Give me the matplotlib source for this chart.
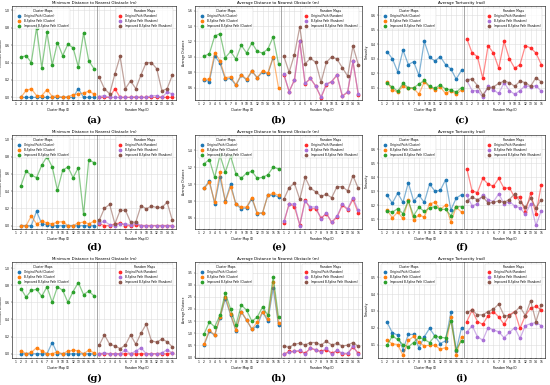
import matplotlib
matplotlib.use("Agg")
import matplotlib.pyplot as plt

# x tick labels
cluster_ids = list(range(1, 17))
random_ids = list(range(1, 16))

series_names = ["Original Path", "B-Spline Path", "Improved B-Spline Path"]
cluster_colors = ["#1f77b4", "#ff7f0e", "#2ca02c"]
random_colors = ["#ff2a2a", "#a970d6", "#8c564b"]

# (a) minimum distance
a_clu_orig = [0, 0, 0, 0, 0, 0, 0, 0, 0, 0, 0, 0.10, 0, 0, 0]
a_clu_bsp = [0, 0.08, 0.10, 0.02, 0.02, 0.09, 0.01, 0.02, 0.0, 0.01, 0.03, 0.04, 0.05, 0.07, 0.04]
a_clu_imp = [0.46, 0.48, 0.40, 0.80, 0.34, 0.75, 0.37, 0.63, 0.48, 0.61, 0.57, 0.35, 0.74, 0.42, 0.33]
a_rnd_orig = [0.0, 0.0, 0.0, 0.10, 0.0, 0.0, 0.0, 0.0, 0.0, 0.0, 0.0, 0.0, 0.0, 0.0, 0.0]
a_rnd_bsp = [0.01, 0.02, 0.0, 0.0, 0.0, 0.0, 0.0, 0.01, 0.0, 0.0, 0.02, 0.02, 0.0, 0.06, 0.04]
a_rnd_imp = [0.23, 0.10, 0.04, 0.27, 0.47, 0.10, 0.19, 0.10, 0.26, 0.40, 0.40, 0.33, 0.075, 0.10, 0.255]

# (b) average distance
b_clu_orig = [0.70, 0.68, 1.01, 0.92, 0.71, 0.72, 0.63, 0.76, 0.70, 0.81, 0.73, 0.80, 0.78, 0.99]
b_clu_bsp = [0.71, 0.71, 1.05, 0.95, 0.73, 0.74, 0.64, 0.77, 0.71, 0.82, 0.73, 0.82, 0.79, 1.00, 0.60]
b_clu_imp = [1.01, 1.04, 1.27, 1.30, 0.99, 1.07, 0.97, 1.15, 1.05, 1.18, 1.07, 1.05, 1.10, 1.26, 0.91]
b_rnd_orig = [0.77, 0.55, 0.70, 1.20, 0.65, 0.72, 0.62, 0.47, 0.64, 0.68, 0.76, 0.49, 0.54, 0.94, 0.51]
b_rnd_bsp = [0.78, 0.55, 0.70, 1.20, 0.66, 0.72, 0.62, 0.48, 0.65, 0.68, 0.77, 0.49, 0.55, 0.94, 0.52]
b_rnd_imp = [1.01, 0.80, 1.03, 1.39, 0.91, 0.98, 0.93, 0.67, 0.93, 1.00, 0.97, 0.86, 0.75, 1.14, 0.90]

# (c) tortuosity
c_clu_orig = [0.35, 0.30, 0.21, 0.36, 0.26, 0.28, 0.185, 0.42, 0.31, 0.285, 0.315, 0.26, 0.23, 0.16, 0.22]
c_clu_bsp = [0.14, 0.085, 0.07, 0.11, 0.095, 0.095, 0.055, 0.14, 0.105, 0.085, 0.105, 0.06, 0.08, 0.055, 0.085]
c_clu_imp = [0.13, 0.105, 0.075, 0.13, 0.10, 0.10, 0.125, 0.15, 0.11, 0.095, 0.12, 0.09, 0.085, 0.07, 0.10]
c_rnd_orig = [0.44, 0.34, 0.315, 0.165, 0.39, 0.34, 0.235, 0.42, 0.30, 0.235, 0.26, 0.39, 0.375, 0.34, 0.26]
c_rnd_bsp = [0.15, 0.08, 0.08, 0.035, 0.11, 0.085, 0.06, 0.135, 0.08, 0.055, 0.08, 0.115, 0.105, 0.115, 0.075]
c_rnd_imp = [0.155, 0.16, 0.115, 0.05, 0.10, 0.105, 0.13, 0.145, 0.135, 0.11, 0.145, 0.135, 0.11, 0.17, 0.14]

# (d) minimum distance
d_clu_orig = [0, 0, 0, 0.165, 0.02, 0.01, 0, 0, 0, 0, 0, 0, 0, 0, 0]
d_clu_bsp = [0, 0, 0.11, 0.02, 0.05, 0.03, 0.02, 0.04, 0.045, 0, 0, 0.03, 0.04, 0.02, 0.05]
d_clu_imp = [0.46, 0.63, 0.585, 0.555, 0.70, 0.80, 0.68, 0.41, 0.64, 0.68, 0.555, 0.67, 0.13, 0.76, 0.73]
d_rnd_orig = [0.02, 0.0, 0.0, 0.02, 0.03, 0.0, 0.0, 0.01, 0.0, 0.0, 0.0, 0.0, 0.0, 0.0, 0.0]
d_rnd_bsp = [0.03, 0.05, 0.01, 0.0, 0.02, 0.02, 0.01, 0.03, 0.0, 0.0, 0.0, 0.0, 0.0, 0.0, 0.0]
d_rnd_imp = [0.06, 0.20, 0.245, 0.02, 0.175, 0.18, 0.04, 0.04, 0.23, 0.195, 0.225, 0.21, 0.21, 0.27, 0.06]

# (e) average distance
e_clu_orig = [0.95, 1.04, 0.77, 1.08, 0.80, 1.00, 0.76, 0.71, 0.72, 0.83, 0.65, 0.66, 0.87, 0.87, 0.85]
e_clu_bsp = [0.95, 1.02, 0.79, 1.14, 0.79, 0.97, 0.76, 0.73, 0.73, 0.84, 0.66, 0.66, 0.87, 0.89, 0.87]
e_clu_imp = [1.24, 1.29, 1.08, 1.34, 1.14, 1.33, 1.12, 1.07, 1.13, 1.15, 1.07, 1.08, 1.11, 1.20, 1.18]
e_rnd_orig = [0.54, 0.77, 0.73, 0.52, 0.81, 0.71, 0.71, 0.60, 0.65, 0.55, 0.61, 0.75, 0.70, 0.82, 0.66]
e_rnd_bsp = [0.56, 0.76, 0.77, 0.51, 0.80, 0.73, 0.73, 0.59, 0.66, 0.55, 0.62, 0.76, 0.71, 0.84, 0.69]
e_rnd_imp = [0.82, 0.96, 1.01, 0.82, 1.08, 0.95, 0.91, 0.855, 0.88, 0.84, 0.97, 0.97, 0.92, 1.10, 0.95]

# (f) tortuosity
f_clu_orig = [0.27, 0.215, 0.285, 0.22, 0.36, 0.23, 0.27, 0.22, 0.35, 0.30, 0.305, 0.38, 0.165, 0.25, 0.275]
f_clu_bsp = [0.165, 0.11, 0.15, 0.105, 0.235, 0.095, 0.13, 0.115, 0.21, 0.22, 0.17, 0.20, 0.08, 0.185, 0.15]
f_clu_imp = [0.16, 0.15, 0.175, 0.14, 0.23, 0.125, 0.185, 0.155, 0.18, 0.19, 0.17, 0.17, 0.125, 0.19, 0.19]
f_rnd_orig = [0.46, 0.30, 0.29, 0.39, 0.35, 0.335, 0.39, 0.32, 0.325, 0.255, 0.26, 0.15, 0.285, 0.135, 0.345]
f_rnd_bsp = [0.27, 0.195, 0.21, 0.275, 0.24, 0.225, 0.28, 0.21, 0.225, 0.195, 0.18, 0.135, 0.21, 0.055, 0.16]
f_rnd_imp = [0.23, 0.255, 0.24, 0.26, 0.215, 0.22, 0.23, 0.22, 0.24, 0.28, 0.225, 0.185, 0.25, 0.18, 0.24]

# (g) minimum distance
g_clu_orig = [0, 0, 0, 0, 0, 0, 0.13, 0, 0, 0, 0, 0, 0, 0, 0]
g_clu_bsp = [0.035, 0.0, 0.015, 0.07, 0.035, 0.0, 0.0, 0.02, 0.0, 0.03, 0.04, 0.035, 0.0, 0.04, 0.01]
g_clu_imp = [0.76, 0.66, 0.74, 0.75, 0.67, 0.78, 0.60, 0.78, 0.74, 0.60, 0.725, 0.83, 0.69, 0.73, 0.675]
g_rnd_orig = [0, 0, 0, 0, 0, 0, 0, 0, 0, 0, 0, 0, 0, 0, 0.01]
g_rnd_bsp = [0.0, 0.01, 0.0, 0.0, 0.0, 0.04, 0.0, 0.03, 0.07, 0.0, 0.0, 0.0, 0.01, 0.045, 0.01]
g_rnd_imp = [0.10, 0.22, 0.11, 0.09, 0.06, 0.10, 0.22, 0.11, 0.24, 0.345, 0.15, 0.135, 0.17, 0.14, 0.08]

# (h) average distance
h_clu_orig = [0.50, 1.07, 0.91, 1.63, 2.42, 1.75, 1.09, 1.88, 1.53, 1.16, 1.29, 1.88, 1.49, 2.87, 1.33]
h_clu_bsp = [0.54, 1.11, 0.93, 1.66, 2.51, 1.79, 1.13, 1.89, 1.55, 1.16, 1.46, 1.89, 1.57, 3.13, 1.43]
h_clu_imp = [0.96, 1.46, 1.26, 1.74, 2.66, 1.99, 1.33, 2.16, 1.95, 1.49, 1.66, 2.08, 1.74, 3.33, 1.66]
h_rnd_orig = [0.13, 0.24, 0.24, 0.26, 0.17, 0.37, 0.30, 0.24, 0.32, 0.17, 0.26, 0.14, 0.14, 0.43, 0.17]
h_rnd_bsp = [0.13, 0.21, 0.24, 0.29, 0.13, 0.38, 0.32, 0.22, 0.37, 0.13, 0.29, 0.18, 0.16, 0.45, 0.13]
h_rnd_imp = [0.47, 0.41, 0.54, 0.58, 0.51, 0.61, 0.61, 0.51, 0.66, 0.51, 0.57, 0.47, 0.50, 0.61, 0.45]

# (i) tortuosity
i_clu_orig = [0.232, 0.17, 0.156, 0.07, 0.16, 0.16, 0.08, 0.146, 0.196, 0.15, 0.106, 0.122, 0.292, 0.062, 0.20]
i_clu_bsp = [0.126, 0.104, 0.10, 0.036, 0.124, 0.148, 0.114, 0.092, 0.096, 0.096, 0.072, 0.082, 0.262, 0.038, 0.144]
i_clu_imp = [0.096, 0.15, 0.13, 0.10, 0.086, 0.112, 0.142, 0.13, 0.112, 0.15, 0.142, 0.14, 0.24, 0.07, 0.122]
i_rnd_orig = [0.236, 0.304, 0.236, 0.22, 0.272, 0.296, 0.264, 0.22, 0.276, 0.296, 0.196, 0.272, 0.316, 0.326, 0.306]
i_rnd_bsp = [0.172, 0.212, 0.146, 0.126, 0.20, 0.186, 0.176, 0.14, 0.172, 0.20, 0.136, 0.212, 0.224, 0.23, 0.212]
i_rnd_imp = [0.292, 0.304, 0.276, 0.276, 0.296, 0.31, 0.34, 0.272, 0.272, 0.292, 0.324, 0.272, 0.36, 0.236, 0.336]

t_min = "Minimum Distance to Nearest Obstacle (m)"
t_avg = "Average Distance to Nearest Obstacle (m)"
t_tor = "Average Tortuosity (rad)"

W, H = 550, 385


def px_axes(fig, left, top, right, bottom):
    return fig.add_axes([left / W, 1 - bottom / H, (right - left) / W, (bottom - top) / H])


def draw_panel(ax, title, ylabel, clu, rnd, ylim, yticks):
    n_clu = len(cluster_ids)
    for k, vals in enumerate(clu):
        xs = list(range(1, 1 + len(vals)))
        ax.plot(xs, vals, color=cluster_colors[k], lw=0.9, alpha=0.55)
        ax.plot(xs, vals, ls="none", marker="o", ms=1.7, color=cluster_colors[k],
                label=f"{series_names[k]} (Cluster)")
    for k, vals in enumerate(rnd):
        xs = list(range(n_clu, n_clu + len(vals)))
        ax.plot(xs, vals, color=random_colors[k], lw=0.9, alpha=0.55)
        ax.plot(xs, vals, ls="none", marker="o", ms=1.7, color=random_colors[k],
                label=f"{series_names[k]} (Random)")
    ax.axvline(n_clu - 0.5, color="#999999", lw=0.6)
    ticks = list(range(n_clu + len(random_ids)))
    ax.set_xticks(ticks)
    ax.set_xticklabels([str(i) for i in cluster_ids] + [str(i) for i in random_ids])
    ax.set_xlim(-0.7, len(ticks) - 0.3)
    ax.set_ylim(*ylim)
    ax.set_yticks(yticks)
    ax.set_yticklabels([f"{t:.1f}" for t in yticks])
    ax.grid(True, color="#dddddd", lw=0.4)
    ax.tick_params(labelsize=2.2, length=0.8, width=0.3, pad=0.8)
    for s in ax.spines.values():
        s.set_linewidth(0.4)
    ax.set_title(title, fontsize=2.8, pad=1.5)
    ax.set_ylabel(ylabel, fontsize=2.2, labelpad=1.5)
    ax.text(0.28, -0.08, "Cluster Map ID", transform=ax.transAxes, fontsize=2.2, ha="center", va="top")
    ax.text(0.76, -0.08, "Random Map ID", transform=ax.transAxes, fontsize=2.2, ha="center", va="top")
    h, l = ax.get_legend_handles_labels()
    leg1 = ax.legend(h[:3], l[:3], title="Cluster Maps", loc="upper left", fontsize=2,
                     title_fontsize=2.2, frameon=True, borderpad=0.4, handlelength=2,
                     labelspacing=0.3, bbox_to_anchor=(0.01, 0.99))
    leg1.get_frame().set_linewidth(0.3)
    ax.add_artist(leg1)
    leg2 = ax.legend(h[3:], l[3:], title="Random Maps", loc="upper right", fontsize=2,
                     title_fontsize=2.2, frameon=True, borderpad=0.4, handlelength=2,
                     labelspacing=0.3, bbox_to_anchor=(0.99, 0.99))
    leg2.get_frame().set_linewidth(0.3)


fig = plt.figure(figsize=(5.5, 3.85), dpi=100)

cols = [(12, 176), (195, 362), (378, 545)]
rows = [(6, 100), (135, 229), (262, 358)]
label_y = [120, 247, 378]

panels = [
    ("a", t_min, "Minimum Distance", [a_clu_orig, a_clu_bsp, a_clu_imp], [a_rnd_orig, a_rnd_bsp, a_rnd_imp],
     (-0.03, 1.05), [0.0, 0.2, 0.4, 0.6, 0.8, 1.0]),
    ("b", t_avg, "Average Distance", [b_clu_orig, b_clu_bsp, b_clu_imp], [b_rnd_orig, b_rnd_bsp, b_rnd_imp],
     (0.44, 1.66), [0.6, 0.8, 1.0, 1.2, 1.4, 1.6]),
    ("c", t_tor, "Tortuosity", [c_clu_orig, c_clu_bsp, c_clu_imp], [c_rnd_orig, c_rnd_bsp, c_rnd_imp],
     (0.015, 0.665), [0.1, 0.2, 0.3, 0.4, 0.5, 0.6]),
    ("d", t_min, "Minimum Distance", [d_clu_orig, d_clu_bsp, d_clu_imp], [d_rnd_orig, d_rnd_bsp, d_rnd_imp],
     (-0.04, 1.05), [0.0, 0.2, 0.4, 0.6, 0.8, 1.0]),
    ("e", t_avg, "Average Distance", [e_clu_orig, e_clu_bsp, e_clu_imp], [e_rnd_orig, e_rnd_bsp, e_rnd_imp],
     (0.47, 1.58), [0.6, 0.8, 1.0, 1.2, 1.4]),
    ("f", t_tor, "Tortuosity", [f_clu_orig, f_clu_bsp, f_clu_imp], [f_rnd_orig, f_rnd_bsp, f_rnd_imp],
     (0.03, 0.70), [0.1, 0.2, 0.3, 0.4, 0.5, 0.6]),
    ("g", t_min, "Minimum Distance", [g_clu_orig, g_clu_bsp, g_clu_imp], [g_rnd_orig, g_rnd_bsp, g_rnd_imp],
     (-0.05, 1.07), [0.0, 0.2, 0.4, 0.6, 0.8, 1.0]),
    ("h", t_avg, "Average Distance", [h_clu_orig, h_clu_bsp, h_clu_imp], [h_rnd_orig, h_rnd_bsp, h_rnd_imp],
     (-0.03, 3.94), [0.0, 0.5, 1.0, 1.5, 2.0, 2.5, 3.0, 3.5]),
    ("i", t_tor, "Tortuosity", [i_clu_orig, i_clu_bsp, i_clu_imp], [i_rnd_orig, i_rnd_bsp, i_rnd_imp],
     (0.02, 0.59), [0.1, 0.2, 0.3, 0.4, 0.5]),
]

for idx, (tag, title, ylabel, clu, rnd, ylim, yticks) in enumerate(panels):
    r, c = divmod(idx, 3)
    left, right = cols[c]
    top, bottom = rows[r]
    ax = px_axes(fig, left, top, right, bottom)
    draw_panel(ax, title, ylabel, clu, rnd, ylim, yticks)
    fig.text((left + right) / 2 / W, 1 - label_y[r] / H, f"({tag})", fontsize=7, fontweight="bold",
             family="DejaVu Serif", ha="center", va="center")

fig.savefig("out.png", dpi=100)
